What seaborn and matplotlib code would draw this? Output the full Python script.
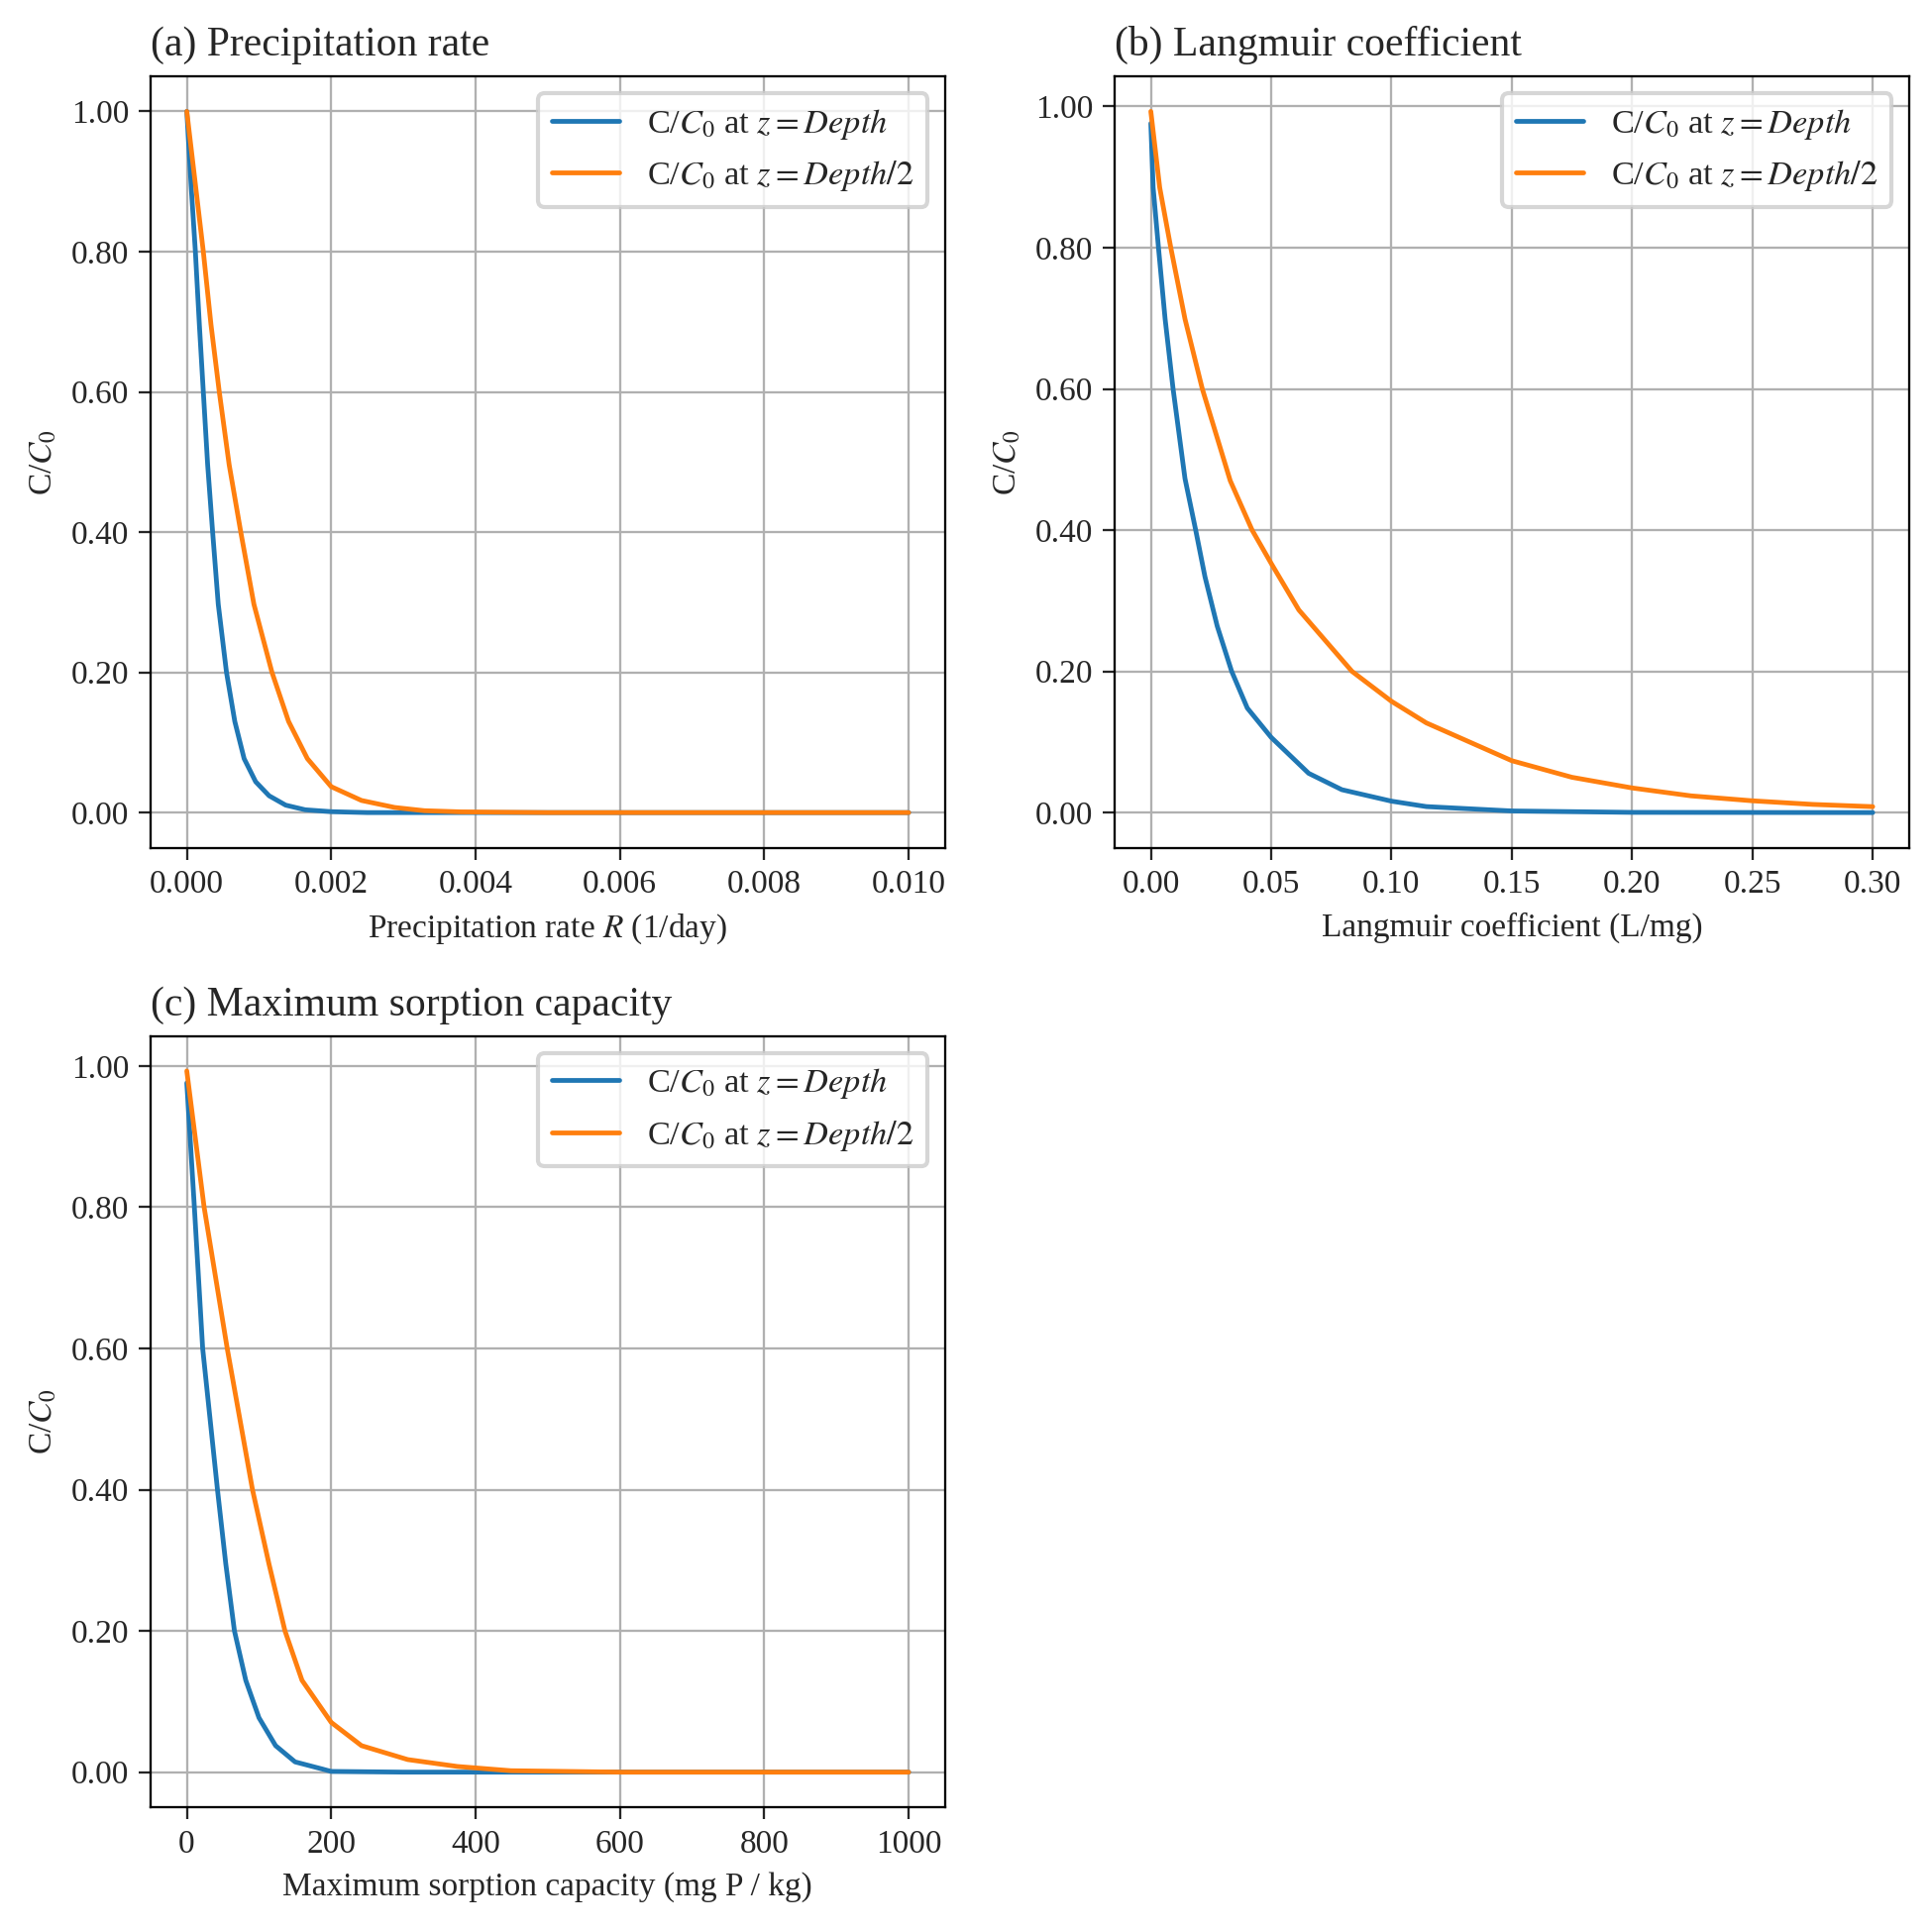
import matplotlib
matplotlib.use("Agg")
import matplotlib.pyplot as plt
import seaborn as sns
from matplotlib.ticker import FormatStrFormatter

sns.set_style("ticks")
plt.rcParams['font.family'] = ['Liberation Serif', 'DejaVu Serif']
plt.rcParams['mathtext.fontset'] = 'stix'
plt.rcParams['font.size'] = 8

# ---- data ----
# (a) Precipitation rate
a_x_depth = [0, 0.0000596, 0.000119, 0.000174, 0.000229, 0.000289, 0.000358, 0.000436,
             0.00055, 0.000665, 0.000794, 0.000954, 0.00114, 0.00137, 0.00164, 0.002,
             0.0025, 0.010]
a_y_depth = [1.0, 0.895, 0.8, 0.696, 0.6, 0.496, 0.4, 0.297, 0.2, 0.130, 0.077, 0.044,
             0.024, 0.0106, 0.004, 0.0013, 0.0, 0.0]
a_x_half = [0, 0.000229, 0.000335, 0.00045, 0.000587, 0.000748, 0.00093, 0.00118,
            0.00141, 0.00167, 0.002, 0.00242, 0.00288, 0.00329, 0.0038, 0.005, 0.010]
a_y_half = [1.0, 0.8, 0.696, 0.6, 0.496, 0.4, 0.297, 0.2, 0.130, 0.077, 0.037, 0.0173,
            0.0073, 0.0027, 0.001, 0.0, 0.0]

# (b) Langmuir coefficient
b_x_depth = [0, 0.00097, 0.00318, 0.00594, 0.00925, 0.0142, 0.01865, 0.0225, 0.0276,
             0.0336, 0.0401, 0.05, 0.0656, 0.0794, 0.1, 0.1145, 0.15, 0.2, 0.3]
b_y_depth = [0.976, 0.885, 0.8, 0.699, 0.6, 0.473, 0.4, 0.334, 0.264, 0.2, 0.148,
             0.1066, 0.0556, 0.0324, 0.0162, 0.0085, 0.0023, 0.0003, 0.0]
b_x_half = [0, 0.0037, 0.0083, 0.0142, 0.0214, 0.033, 0.0421, 0.05, 0.0615, 0.0836,
            0.1, 0.1145, 0.15, 0.175, 0.2, 0.2245, 0.25, 0.275, 0.3]
b_y_half = [0.993, 0.885, 0.8, 0.699, 0.6, 0.47, 0.4, 0.353, 0.287, 0.2, 0.1576, 0.127,
            0.0735, 0.050, 0.0349, 0.0237, 0.0167, 0.0116, 0.0084]

# (c) Maximum sorption capacity
c_x_depth = [0, 10.5, 22, 42.5, 54, 66, 81.7, 100, 123, 150, 187, 200, 300, 1000]
c_y_depth = [0.976, 0.8, 0.6, 0.4, 0.295, 0.2, 0.130, 0.077, 0.0375, 0.0145, 0.0046,
             0.001, 0.0, 0.0]
c_x_half = [0, 24, 56, 91, 113.8, 136, 159.6, 200, 242, 306, 375, 449, 600, 1000]
c_y_half = [0.993, 0.8, 0.6, 0.4, 0.295, 0.2, 0.130, 0.0705, 0.0375, 0.0178, 0.008,
            0.002, 0.0, 0.0]

titles = ["(a) Precipitation rate", "(b) Langmuir coefficient",
          "(c) Maximum sorption capacity"]
xlabels = [r"Precipitation rate $R$ (1/day)", "Langmuir coefficient (L/mg)",
           "Maximum sorption capacity (mg P / kg)"]
legend_depth = r"C/$C_0$ at $z = Depth$"
legend_half = r"C/$C_0$ at $z = Depth/2$"
xfmt = ["%.3f", "%.2f", None]

series = [(a_x_depth, a_y_depth, a_x_half, a_y_half),
          (b_x_depth, b_y_depth, b_x_half, b_y_half),
          (c_x_depth, c_y_depth, c_x_half, c_y_half)]

fig, axes = plt.subplots(2, 2, figsize=(6.5, 6.5), dpi=300)
fig.subplots_adjust(left=0.078, right=0.988, top=0.9605, bottom=0.0646,
                    wspace=0.214, hspace=0.244)
axlist = [axes[0, 0], axes[0, 1], axes[1, 0]]
axes[1, 1].axis("off")

for ax, (xd, yd, xh, yh), t, xl, fmt in zip(axlist, series, titles, xlabels, xfmt):
    sns.lineplot(x=xd, y=yd, ax=ax, color="#1f77b4", lw=1.15, label=legend_depth,
                 sort=False)
    sns.lineplot(x=xh, y=yh, ax=ax, color="#ff7f0e", lw=1.15, label=legend_half,
                 sort=False)
    ax.set_title(t, loc="left", fontsize=10, pad=5)
    ax.set_xlabel(xl, fontsize=8, labelpad=3)
    ax.set_ylabel(r"C/$C_0$", fontsize=8, labelpad=3)
    ax.grid(True, color="#b0b0b0", lw=0.55)
    ax.set_axisbelow(True)
    ax.yaxis.set_major_formatter(FormatStrFormatter("%.2f"))
    if fmt:
        ax.xaxis.set_major_formatter(FormatStrFormatter(fmt))
    ax.tick_params(labelsize=8, width=0.55, length=2.8, pad=2.5, direction="out")
    for s in ax.spines.values():
        s.set_linewidth(0.55)
        s.set_color("black")
    ax.legend(loc="upper right", fontsize=8.25, frameon=True)

fig.savefig("out.png", dpi=300)
